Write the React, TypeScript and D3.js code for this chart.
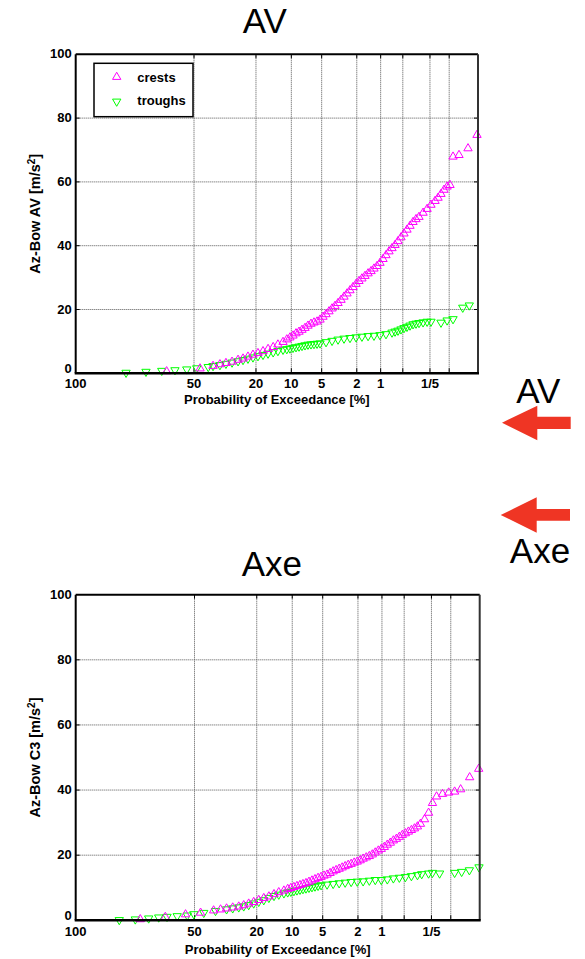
import React from 'react';
import * as d3 from 'd3';

// Probability of exceedance [%] ticks (Rayleigh paper)
const probTicks = [100, 50, 20, 10, 5, 2, 1, 0.5, 0.2, 0.1];
const probTickLabels = ['100', '50', '20', '10', '5', '2', '1', '', '1/5', ''];
const valueTicks = [0, 20, 40, 60, 80, 100];

// [exceedance %, value m/s^2]
const avCrests: [number, number][] = [
  [66.4, 0.6], [46.5, 1.5], [39.3, 2.3], [35.7, 2.8], [32.7, 3.2], [29.8, 3.6], [27.1, 4.2], [25.0, 4.6], [23.0, 5.2], [21.1, 5.8],
  [19.3, 6.3], [17.6, 6.9], [16.0, 7.6], [14.5, 8.2], [13.2, 9.0], [11.9, 9.8], [11.0, 10.6], [10.3, 11.2], [9.65, 11.8], [9.04, 12.5],
  [8.46, 13.0], [7.92, 13.6], [7.40, 14.2], [6.91, 14.9], [6.45, 15.5], [6.01, 15.9], [5.59, 16.2], [5.20, 16.8], [4.84, 17.7], [4.49, 18.5],
  [4.17, 19.4], [3.86, 20.3], [3.58, 21.1], [3.31, 22.0], [3.06, 23.0], [2.83, 24.0], [2.61, 25.0], [2.41, 26.0], [2.22, 27.0], [2.04, 28.0],
  [1.88, 28.9], [1.73, 29.7], [1.585, 30.5], [1.45, 31.3], [1.33, 32.0], [1.22, 32.8], [1.115, 33.6], [1.02, 34.6], [0.931, 35.8], [0.85, 37.0],
  [0.774, 38.2], [0.705, 39.2], [0.641, 40.2], [0.584, 41.4], [0.53, 42.6], [0.481, 43.8], [0.436, 45.0], [0.395, 46.2], [0.357, 47.4], [0.323, 48.3],
  [0.292, 49.0], [0.254, 50.3], [0.221, 51.5], [0.193, 52.8], [0.167, 54.0], [0.15, 55.0], [0.135, 56.2], [0.121, 57.5], [0.108, 58.5], [0.097, 59.0],
  [0.0867, 67.9], [0.0692, 68.4], [0.049, 70.5], [0.0344, 74.7],
];

const avTroughs: [number, number][] = [
  [88.2, 0.2], [78.3, 0.5], [69.3, 0.8], [61.4, 1.0], [54.3, 1.25], [48.4, 1.6], [41.9, 2.0], [39.3, 2.3], [35.7, 2.6], [32.7, 3.0],
  [29.8, 3.4], [27.1, 3.8], [25.0, 4.2], [23.0, 4.6], [21.1, 5.0], [19.3, 5.4], [17.6, 5.8], [16.0, 6.2], [14.5, 6.6], [13.2, 7.0],
  [11.9, 7.4], [11.0, 7.6], [10.3, 7.8], [9.65, 8.0], [9.04, 8.2], [8.46, 8.4], [7.92, 8.6], [7.40, 8.8], [6.91, 9.0], [6.45, 9.1],
  [6.01, 9.2], [5.59, 9.3], [5.20, 9.4], [4.49, 9.8], [3.86, 10.2], [3.31, 10.6], [2.83, 10.9], [2.41, 11.1], [2.04, 11.3], [1.73, 11.5],
  [1.45, 11.7], [1.22, 11.8], [1.02, 12.0], [0.85, 12.3], [0.705, 12.8], [0.641, 13.1], [0.584, 13.4], [0.53, 13.8], [0.481, 14.2], [0.436, 14.6],
  [0.395, 15.0], [0.357, 15.4], [0.323, 15.6], [0.292, 15.8], [0.254, 16.0], [0.221, 16.2], [0.193, 16.2], [0.135, 15.9], [0.108, 16.6], [0.0867, 17.0],
  [0.06, 20.6], [0.0466, 21.3],
];

const axeCrests: [number, number][] = [
  [81.5, 0.3], [67.4, 1.0], [55.3, 1.8], [46.5, 2.3], [39.3, 3.0], [35.7, 3.3], [32.7, 3.6], [29.8, 3.9], [27.1, 4.2], [25.0, 4.6],
  [23.0, 5.1], [21.1, 5.6], [19.3, 6.2], [17.6, 6.8], [16.0, 7.3], [14.5, 8.0], [13.2, 8.6], [11.9, 9.1], [11.0, 9.6], [10.3, 9.9],
  [9.65, 10.2], [9.04, 10.5], [8.46, 10.8], [7.92, 11.1], [7.40, 11.4], [6.91, 11.8], [6.45, 12.2], [6.01, 12.6], [5.59, 13.0], [5.20, 13.3],
  [4.84, 13.7], [4.49, 14.0], [4.17, 14.5], [3.86, 15.0], [3.58, 15.4], [3.31, 15.8], [3.06, 16.2], [2.83, 16.6], [2.61, 17.0], [2.41, 17.3],
  [2.22, 17.7], [2.04, 18.0], [1.88, 18.4], [1.73, 18.9], [1.585, 19.3], [1.45, 19.7], [1.33, 20.2], [1.22, 20.8], [1.115, 21.4], [1.02, 21.9],
  [0.931, 22.5], [0.85, 23.2], [0.774, 23.8], [0.705, 24.5], [0.641, 25.0], [0.584, 25.6], [0.53, 26.2], [0.481, 26.7], [0.436, 27.2], [0.395, 27.7],
  [0.357, 28.2], [0.323, 28.8], [0.292, 29.6], [0.254, 31.0], [0.221, 33.0], [0.193, 36.0], [0.167, 38.0], [0.135, 38.8], [0.108, 39.2], [0.0867, 39.5],
  [0.0692, 40.2], [0.049, 43.9], [0.0344, 46.5],
];

const axeTroughs: [number, number][] = [
  [91.1, 0.1], [84.0, 0.3], [77.0, 0.6], [71.3, 0.9], [66.4, 1.1], [60.3, 1.3], [54.3, 1.5], [50.4, 1.9], [44.7, 2.3], [38.3, 2.9],
  [32.7, 3.4], [29.8, 3.7], [27.1, 4.0], [25.0, 4.3], [23.0, 4.7], [21.1, 5.2], [19.3, 5.7], [17.6, 6.2], [16.0, 6.9], [14.5, 7.5],
  [13.2, 7.9], [11.9, 8.3], [11.0, 8.6], [10.3, 8.8], [9.65, 9.0], [9.04, 9.2], [8.46, 9.4], [7.92, 9.6], [7.40, 9.8], [6.91, 10.0],
  [6.45, 10.2], [6.01, 10.4], [5.59, 10.6], [5.20, 10.8], [4.49, 11.0], [3.86, 11.2], [3.31, 11.4], [2.83, 11.6], [2.41, 11.8], [2.04, 11.9],
  [1.73, 12.0], [1.45, 12.2], [1.22, 12.4], [1.02, 12.4], [0.85, 12.6], [0.705, 12.9], [0.584, 13.1], [0.481, 13.3], [0.395, 13.6], [0.323, 13.9],
  [0.28, 14.2], [0.221, 14.4], [0.193, 14.6], [0.15, 14.4], [0.0867, 14.6], [0.0666, 14.9], [0.0495, 15.4], [0.034, 16.3],
];

const FONT = "'Liberation Sans', Arial, Helvetica, sans-serif";
const MAGENTA = '#ff00ff';
const GREEN = '#00ff00';
const RED = '#ef3524';

const rayleigh = (p: number) => Math.sqrt(-Math.log(p / 100));

const upTri = d3.symbol().type(d3.symbolTriangle).size(30)() as string;

interface PanelProps {
  top: number;
  bottom: number;
  left: number;
  right: number;
  crests: [number, number][];
  troughs: [number, number][];
  yLabel: string;
  legend: boolean;
  tickDy: number;
  labelDy: number;
}

function Panel({ top, bottom, left, right, crests, troughs, yLabel, legend, tickDy, labelDy }: PanelProps) {
  const xs = d3.scaleLinear().domain([0, 2.831]).range([left, right]);
  const x = (p: number) => xs(rayleigh(p));
  const y = d3.scaleLinear().domain([0, 100]).range([bottom, top]);
  const gridStyle = { stroke: '#555', strokeWidth: 1, strokeDasharray: '1 1' };
  return (
    <g fontFamily={FONT}>
      {/* grid */}
      {probTicks.slice(1).map((p) => (
        <line key={'vx' + p} x1={x(p)} x2={x(p)} y1={top} y2={bottom} {...gridStyle} />
      ))}
      {valueTicks.slice(1, -1).map((v) => (
        <line key={'hy' + v} x1={left} x2={right} y1={y(v)} y2={y(v)} {...gridStyle} />
      ))}
      {/* ticks */}
      {probTicks.slice(1).map((p) => (
        <g key={'tx' + p}>
          <line x1={x(p)} x2={x(p)} y1={bottom} y2={bottom - 5} stroke="#000" strokeWidth={1} />
          <line x1={x(p)} x2={x(p)} y1={top} y2={top + 4} stroke="#000" strokeWidth={1} />
        </g>
      ))}
      {valueTicks.slice(1, -1).map((v) => (
        <g key={'ty' + v}>
          <line x1={left} x2={left + 4} y1={y(v)} y2={y(v)} stroke="#000" strokeWidth={1} />
          <line x1={right} x2={right - 4} y1={y(v)} y2={y(v)} stroke="#000" strokeWidth={1} />
        </g>
      ))}
      {/* data */}
      {troughs.map(([p, v], i) => (
        <path key={'t' + i} d={upTri} transform={`translate(${x(p)},${y(v)}) rotate(180)`} fill="none" stroke={GREEN} strokeWidth={1} />
      ))}
      {crests.map(([p, v], i) => (
        <path key={'c' + i} d={upTri} transform={`translate(${x(p)},${y(v)})`} fill="none" stroke={MAGENTA} strokeWidth={1} />
      ))}
      {/* frame */}
      <line x1={left} x2={right} y1={top} y2={top} stroke="#000" strokeWidth={2} />
      <line x1={right} x2={right} y1={top} y2={bottom} stroke="#333" strokeWidth={2} />
      <line x1={left} x2={left} y1={top} y2={bottom} stroke="#000" strokeWidth={2} />
      <line x1={left - 1} x2={right + 1} y1={bottom} y2={bottom} stroke="#000" strokeWidth={2.5} />
      {/* y tick labels */}
      {valueTicks.map((v) => (
        <text key={'yl' + v} x={left - 4} y={y(v) + (v === 0 ? -0.5 : 4)} textAnchor="end" fontSize={13} fontWeight="bold">{v}</text>
      ))}
      {/* x tick labels */}
      {probTicks.map((p, i) => (
        <text key={'xl' + p} x={x(p)} y={bottom + tickDy} textAnchor="middle" fontSize={13} fontWeight="bold">{probTickLabels[i]}</text>
      ))}
      <text x={(left + right) / 2} y={bottom + labelDy} textAnchor="middle" fontSize={13} fontWeight="bold">Probability of Exceedance [%]</text>
      <text transform={`translate(40,${(top + bottom) / 2}) rotate(-90)`} textAnchor="middle" fontSize={14.5} fontWeight="bold">
        {yLabel} [m/s<tspan dy={-5} fontSize={10}>2</tspan><tspan dy={5}>]</tspan>
      </text>
      {legend && (
        <g>
          <rect x={94} y={63.3} width={99} height={53.4} fill="#fff" stroke="#000" strokeWidth={1.5} />
          <path d={upTri} transform="translate(116.7,77)" fill="none" stroke={MAGENTA} strokeWidth={1} />
          <text x={137.3} y={81.7} fontSize={13} fontWeight="bold">crests</text>
          <path d={upTri} transform="translate(116.7,101.5) rotate(180)" fill="none" stroke={GREEN} strokeWidth={1} />
          <text x={137.3} y={105} fontSize={13} fontWeight="bold">troughs</text>
        </g>
      )}
    </g>
  );
}

function Arrow({ tipX, tipY, headX, headTop, headBottom, endX, shaftTop, shaftBottom }: any) {
  const pts = [
    [tipX, tipY], [headX, headTop], [headX, shaftTop], [endX, shaftTop],
    [endX, shaftBottom], [headX, shaftBottom], [headX, headBottom],
  ];
  return <polygon points={pts.map((p) => p.join(',')).join(' ')} fill={RED} />;
}

export default function App() {
  return (
    <svg width={585} height={959} style={{ position: 'absolute', left: 0, top: 0, background: '#fff' }} fontFamily={FONT}>
      <rect x={0} y={0} width={585} height={959} fill="#fff" />
      <text x={264.7} y={33.3} textAnchor="middle" fontSize={35}>AV</text>
      <Panel top={54.3} bottom={373.3} left={75.7} right={478} crests={avCrests} troughs={avTroughs}
        yLabel="Az-Bow AV" legend={true} tickDy={14.5} labelDy={31} />
      <text x={538.3} y={403.3} textAnchor="middle" fontSize={35}>AV</text>
      <Arrow tipX={502} tipY={422.7} headX={537.3} headTop={405.7} headBottom={440.3} endX={570.7} shaftTop={416.7} shaftBottom={429} />
      <Arrow tipX={500.7} tipY={515} headX={536.7} headTop={497.3} headBottom={532.7} endX={570} shaftTop={509} shaftBottom={520.7} />
      <text x={540} y={563} textAnchor="middle" fontSize={35}>Axe</text>
      <text x={271.8} y={575.7} textAnchor="middle" fontSize={35}>Axe</text>
      <Panel top={594.7} bottom={920.3} left={75.7} right={479.7} crests={axeCrests} troughs={axeTroughs}
        yLabel="Az-Bow C3" legend={false} tickDy={15.5} labelDy={33.5} />
    </svg>
  );
}
